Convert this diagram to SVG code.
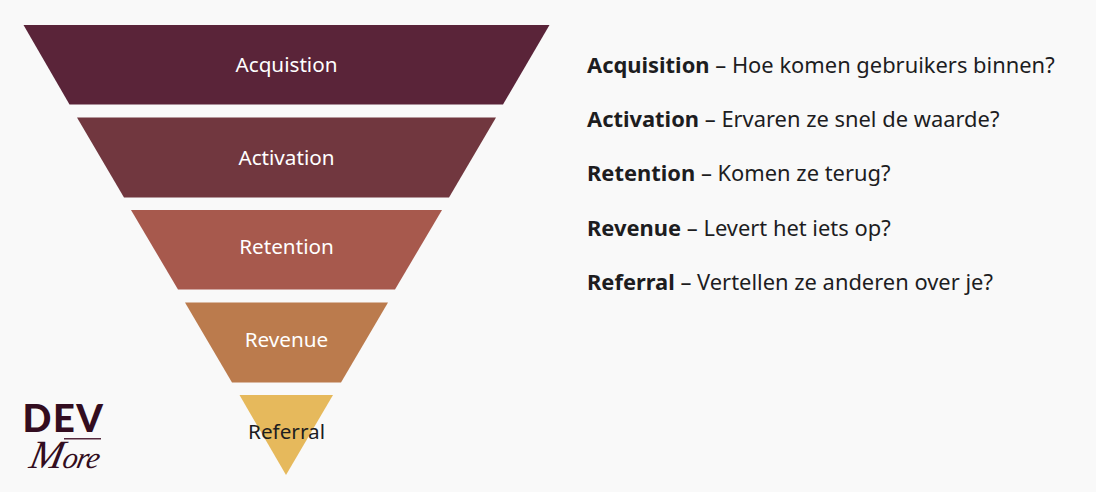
<svg xmlns="http://www.w3.org/2000/svg" width="1096" height="492" viewBox="0 0 1096 492">
<style>
text{font-family:"Noto Sans","Open Sans",sans-serif}
.l{font-size:20.700px;text-anchor:middle;fill:#fff}
.r{font-size:21.900px;fill:#1d1d1f}
.r tspan{font-weight:700}
</style>
<rect width="1096" height="492" fill="#f9f9f9"/>
<g id="acquisition"><polygon points="23.5,25 549.5,25 503,104.500 69.500,104.500" fill="#5a2439"/><text class="l" x="286.500" y="71.500">Acquistion</text></g>
<g id="activation"><polygon points="77,117.500 496,117.500 449,197.500 124,197.500" fill="#71373f"/><text class="l" x="286.500" y="164.500">Activation</text></g>
<g id="retention"><polygon points="131,210 442,210 395,289.500 178,289.500" fill="#a7594d"/><text class="l" x="286.500" y="253.500">Retention</text></g>
<g id="revenue"><polygon points="185,302.500 388,302.500 341,382.500 232,382.500" fill="#bb7b4d"/><text class="l" x="286.500" y="346.500">Revenue</text></g>
<g id="referral"><polygon points="239.500,395 333,395 286,475" fill="#e6b95c"/><text class="l" x="286.500" y="438.500" style="fill:#1d1d1f">Referral</text></g>
<g id="legend">
<text class="r" x="587" y="72.500"><tspan>Acquisition</tspan> – Hoe komen gebruikers binnen?</text>
<text class="r" x="587" y="127"><tspan>Activation</tspan> – Ervaren ze snel de waarde?</text>
<text class="r" x="587" y="181"><tspan>Retention</tspan> – Komen ze terug?</text>
<text class="r" x="587" y="235.500"><tspan>Revenue</tspan> – Levert het iets op?</text>
<text class="r" x="587" y="289.500"><tspan>Referral</tspan> – Vertellen ze anderen over je?</text>
</g>
<g id="logo">
<text x="63.500" y="432" text-anchor="middle" style="font-family:Lato,sans-serif;font-weight:900;font-size:38px;letter-spacing:1.500px" fill="#330d20">DEV</text>
<rect x="64" y="438" width="37" height="1.500" fill="#54283d"/>
<text transform="translate(28 468) skewX(-12)" style="font-family:'Liberation Serif',serif;font-style:italic" fill="#330d20"><tspan font-size="40">M</tspan><tspan font-size="30" letter-spacing="-1">ore</tspan></text>
</g>
</svg>
